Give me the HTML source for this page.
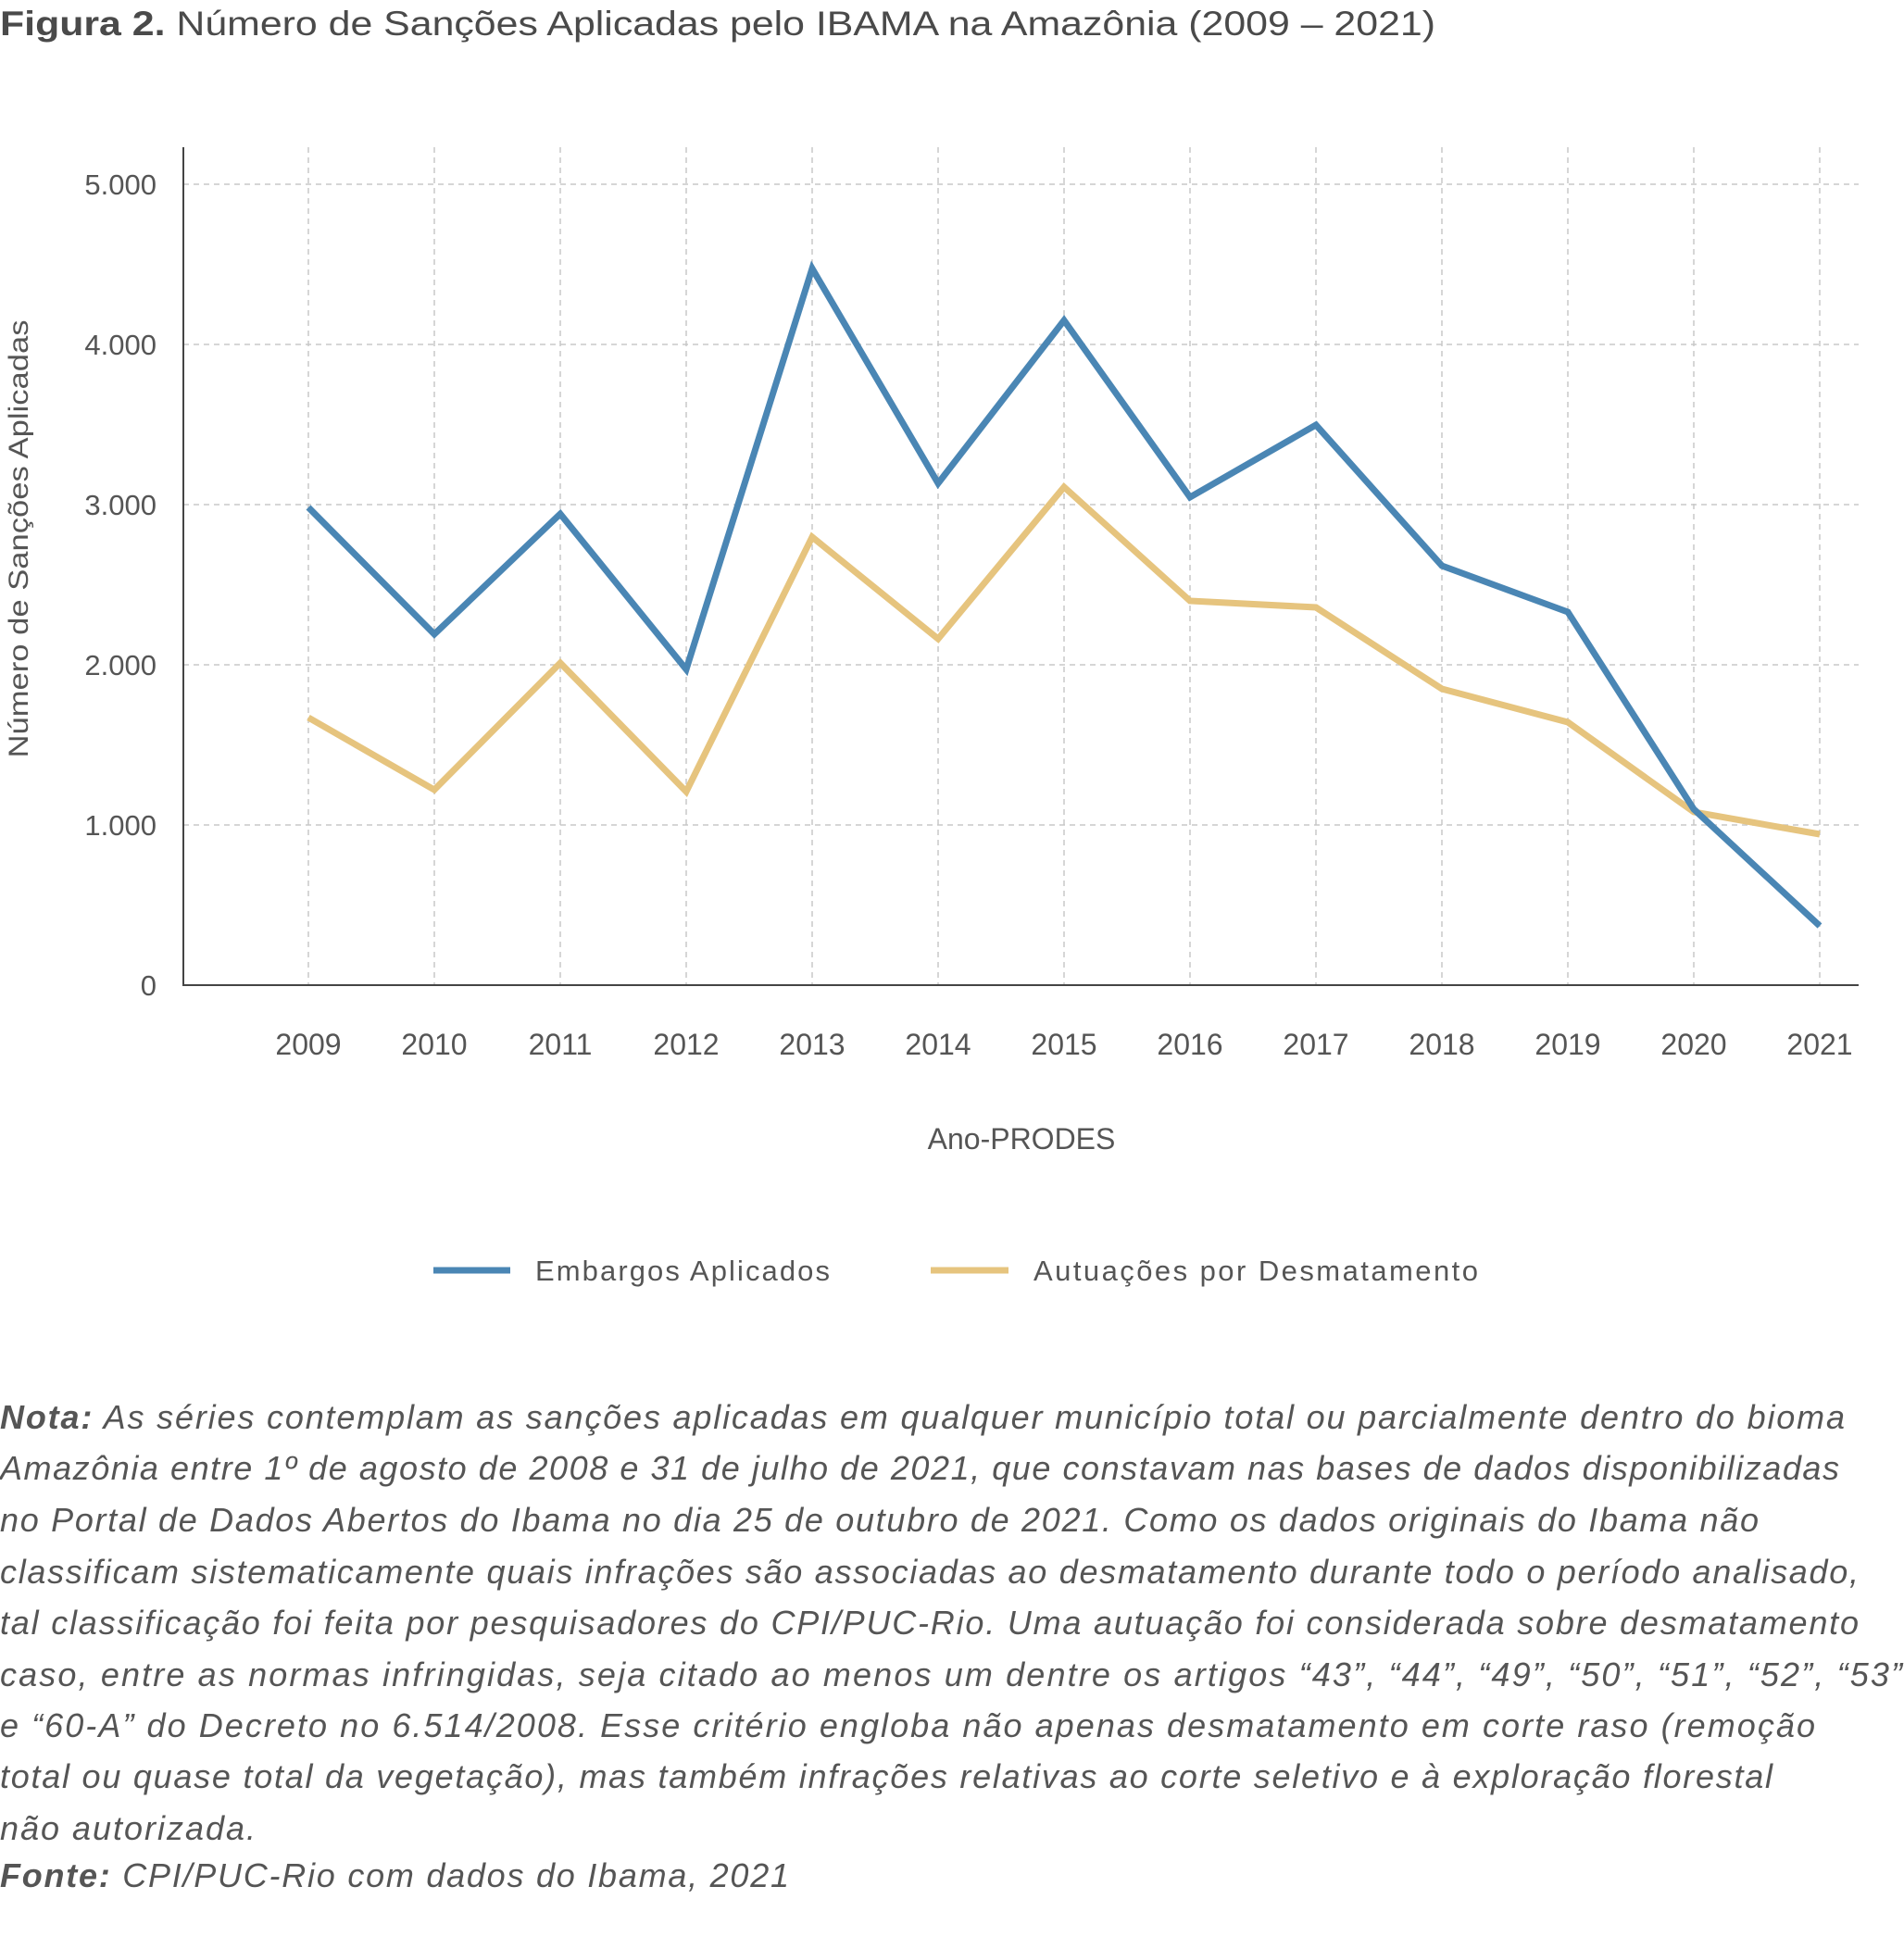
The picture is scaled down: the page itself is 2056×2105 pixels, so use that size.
<!DOCTYPE html>
<html><head><meta charset="utf-8"><style>body{margin:0;background:#fff}</style></head><body>
<svg width="2056" height="2100" xmlns="http://www.w3.org/2000/svg" font-family="Liberation Sans, sans-serif" fill="#4a4a4a">
<text x="0" y="38" font-size="37" textLength="1550" lengthAdjust="spacingAndGlyphs"><tspan font-weight="bold">Figura 2.</tspan> Número de Sanções Aplicadas pelo IBAMA na Amazônia (2009 – 2021)</text>
<g stroke="#c8c8c8" stroke-width="1.5" stroke-dasharray="6,5">
<line x1="198" y1="199" x2="2007" y2="199"/><line x1="198" y1="372" x2="2007" y2="372"/><line x1="198" y1="545" x2="2007" y2="545"/><line x1="198" y1="718" x2="2007" y2="718"/><line x1="198" y1="891" x2="2007" y2="891"/>
<line x1="333" y1="159" x2="333" y2="1064"/><line x1="469" y1="159" x2="469" y2="1064"/><line x1="605" y1="159" x2="605" y2="1064"/><line x1="741" y1="159" x2="741" y2="1064"/><line x1="877" y1="159" x2="877" y2="1064"/><line x1="1013" y1="159" x2="1013" y2="1064"/><line x1="1149" y1="159" x2="1149" y2="1064"/><line x1="1285" y1="159" x2="1285" y2="1064"/><line x1="1421" y1="159" x2="1421" y2="1064"/><line x1="1557" y1="159" x2="1557" y2="1064"/><line x1="1693" y1="159" x2="1693" y2="1064"/><line x1="1829" y1="159" x2="1829" y2="1064"/><line x1="1965" y1="159" x2="1965" y2="1064"/>
</g>
<g stroke="#444" stroke-width="2"><line x1="198" y1="159" x2="198" y2="1065"/><line x1="197" y1="1064" x2="2007" y2="1064"/></g>
<g font-size="31" text-anchor="end" fill="#555">
<text x="169" y="210">5.000</text><text x="169" y="383">4.000</text><text x="169" y="556">3.000</text><text x="169" y="729">2.000</text><text x="169" y="902">1.000</text><text x="169" y="1075">0</text></g>
<g font-size="32" text-anchor="middle" fill="#555">
<text x="333" y="1139">2009</text><text x="469" y="1139">2010</text><text x="605" y="1139">2011</text><text x="741" y="1139">2012</text><text x="877" y="1139">2013</text><text x="1013" y="1139">2014</text><text x="1149" y="1139">2015</text><text x="1285" y="1139">2016</text><text x="1421" y="1139">2017</text><text x="1557" y="1139">2018</text><text x="1693" y="1139">2019</text><text x="1829" y="1139">2020</text><text x="1965" y="1139">2021</text>
<text x="1103" y="1241">Ano-PRODES</text></g>
<text transform="translate(30,582) rotate(-90)" font-size="30" text-anchor="middle" fill="#555" textLength="473" lengthAdjust="spacingAndGlyphs">Número de Sanções Aplicadas</text>
<g fill="none" stroke-width="7" stroke-linejoin="miter">
<polyline stroke="#e6c47e" points="333,775 469,853 605,716 741,855 877,580 1013,690 1149,526 1285,649 1421,656 1557,744 1693,780 1829,877 1965,901"/>
<polyline stroke="#4a86b4" points="333,548 469,685 605,555 741,723 877,290 1013,522 1149,346 1285,537 1421,459 1557,611 1693,661 1829,874 1965,1000"/>
</g>
<line x1="468" y1="1372" x2="551" y2="1372" stroke="#4a86b4" stroke-width="7"/>
<line x1="1005" y1="1372" x2="1089" y2="1372" stroke="#e6c47e" stroke-width="7"/>
<g font-size="31" fill="#555" lengthAdjust="spacingAndGlyphs"><text x="578" y="1383" textLength="318">Embargos Aplicados</text><text x="1116" y="1383" textLength="480">Autuações por Desmatamento</text></g>
<g font-size="36" font-style="italic" fill="#555" lengthAdjust="spacingAndGlyphs">
<text x="0" y="1543" textLength="1992"><tspan font-weight="bold">Nota:</tspan> As séries contemplam as sanções aplicadas em qualquer município total ou parcialmente dentro do bioma</text>
<text x="0" y="1598" textLength="1986">Amazônia entre 1º de agosto de 2008 e 31 de julho de 2021, que constavam nas bases de dados disponibilizadas</text>
<text x="0" y="1654" textLength="1899">no Portal de Dados Abertos do Ibama no dia 25 de outubro de 2021. Como os dados originais do Ibama não</text>
<text x="0" y="1710" textLength="2007">classificam sistematicamente quais infrações são associadas ao desmatamento durante todo o período analisado,</text>
<text x="0" y="1765" textLength="2007">tal classificação foi feita por pesquisadores do CPI/PUC-Rio. Uma autuação foi considerada sobre desmatamento</text>
<text x="0" y="1821" textLength="2054">caso, entre as normas infringidas, seja citado ao menos um dentre os artigos “43”, “44”, “49”, “50”, “51”, “52”, “53”</text>
<text x="0" y="1876" textLength="1960">e “60-A” do Decreto no 6.514/2008. Esse critério engloba não apenas desmatamento em corte raso (remoção</text>
<text x="0" y="1931" textLength="1914">total ou quase total da vegetação), mas também infrações relativas ao corte seletivo e à exploração florestal</text>
<text x="0" y="1987" textLength="276">não autorizada.</text>
<text x="0" y="2038" textLength="852"><tspan font-weight="bold">Fonte:</tspan> CPI/PUC-Rio com dados do Ibama, 2021</text>
</g>
</svg>
</body></html>
